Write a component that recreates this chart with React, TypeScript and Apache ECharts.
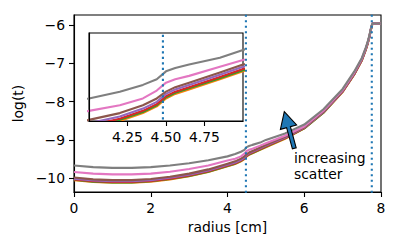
import React, { useEffect, useRef } from "react";
import * as echarts from "echarts";

const radius = [0, 0.5, 1, 1.5, 2, 2.5, 3, 3.5, 4, 4.2, 4.35, 4.44, 4.5, 4.56, 4.65, 4.85, 5, 5.5, 6, 6.5, 7, 7.3, 7.5, 7.6, 7.65, 7.7, 7.73, 7.76, 7.78, 8];

const orangeT = [-10.05, -10.1, -10.12, -10.12, -10.09, -10.03, -9.95, -9.84, -9.69, -9.63, -9.56, -9.5, -9.43, -9.39, -9.35, -9.26, -9.19, -8.97, -8.7, -8.29, -7.75, -7.3, -6.93, -6.66, -6.5, -6.31, -6.15, -6.03, -5.96, -5.96];
const greenT = [-10.04, -10.09, -10.11, -10.11, -10.08, -10.02, -9.94, -9.83, -9.68, -9.62, -9.55, -9.49, -9.42, -9.38, -9.34, -9.25, -9.18, -8.96, -8.7, -8.29, -7.74, -7.29, -6.92, -6.65, -6.49, -6.3, -6.15, -6.03, -5.96, -5.96];
const redT = [-10.03, -10.08, -10.1, -10.1, -10.07, -10.01, -9.93, -9.82, -9.67, -9.61, -9.54, -9.48, -9.41, -9.37, -9.33, -9.24, -9.17, -8.95, -8.69, -8.28, -7.74, -7.29, -6.92, -6.65, -6.49, -6.3, -6.15, -6.02, -5.96, -5.96];
const purpleT = [-10.01, -10.06, -10.08, -10.08, -10.05, -9.99, -9.91, -9.8, -9.65, -9.59, -9.52, -9.46, -9.39, -9.35, -9.31, -9.22, -9.15, -8.94, -8.68, -8.27, -7.73, -7.28, -6.91, -6.64, -6.48, -6.29, -6.14, -6.02, -5.96, -5.96];
const brownT = [-9.98, -10.03, -10.05, -10.05, -10.02, -9.96, -9.88, -9.77, -9.62, -9.56, -9.49, -9.43, -9.37, -9.33, -9.29, -9.2, -9.13, -8.92, -8.67, -8.26, -7.72, -7.27, -6.9, -6.63, -6.48, -6.29, -6.14, -6.02, -5.96, -5.96];
const pinkT = [-9.84, -9.88, -9.9, -9.9, -9.88, -9.83, -9.76, -9.67, -9.54, -9.49, -9.43, -9.36, -9.29, -9.26, -9.23, -9.15, -9.09, -8.89, -8.65, -8.24, -7.7, -7.25, -6.88, -6.62, -6.47, -6.28, -6.13, -6.01, -5.96, -5.96];
const grayT = [-9.67, -9.71, -9.73, -9.73, -9.71, -9.67, -9.61, -9.53, -9.43, -9.37, -9.31, -9.26, -9.19, -9.16, -9.13, -9.07, -9.0, -8.83, -8.6, -8.2, -7.67, -7.22, -6.86, -6.6, -6.45, -6.26, -6.12, -6.0, -5.96, -5.96];

const curves = [orangeT, greenT, redT, purpleT, brownT, pinkT, grayT];
const curveColors = ["#ff7f0e", "#2ca02c", "#d62728", "#9467bd", "#8c564b", "#e377c2", "#7f7f7f"];

const markerRadii = [4.48, 7.76];
const mainYTicks = [-10, -9, -8, -7, -6];
const insetXTicks = [4.25, 4.5, 4.75];
const mainXTicks = [0, 2, 4, 6, 8];

const FONT = "DejaVu Sans";
const FS = 13.9;

export default function App() {
  const ref = useRef<HTMLDivElement>(null);
  useEffect(() => {
    document.body.style.margin = "0";
    const chart = echarts.init(ref.current!, null, { renderer: "svg" });
    const lineSeries: any[] = [];
    [0, 1].forEach((g) => {
      curves.forEach((c, i) => {
        lineSeries.push({
          type: "line",
          xAxisIndex: g,
          yAxisIndex: g,
          data: radius.map((r, k) => [r, c[k]]),
          showSymbol: false,
          symbol: "none",
          smooth: false,
          clip: true,
          lineStyle: { color: curveColors[i], width: 2.1, join: "round" },
          z: g === 0 ? 2 : 12,
          silent: true,
        });
      });
      markerRadii.forEach((m) => {
        lineSeries.push({
          type: "line",
          xAxisIndex: g,
          yAxisIndex: g,
          data: [[m, -20], [m, 0]],
          showSymbol: false,
          symbol: "none",
          clip: true,
          lineStyle: { color: "#1f77b4", width: 2.1, type: [2.1, 3.4], cap: "butt" },
          z: g === 0 ? 4 : 14,
          silent: true,
        });
      });
    });
    const axisText = { color: "#000", fontFamily: FONT, fontSize: FS };
    chart.setOption({
      animation: false,
      backgroundColor: "#fff",
      grid: [
        { left: 74, top: 15, width: 307, height: 177, show: true, borderColor: "#000", borderWidth: 1.1, backgroundColor: "#fff", containLabel: false },
        { left: 89, top: 33, width: 154, height: 88, show: true, borderColor: "#000", borderWidth: 1.1, backgroundColor: "#fff", containLabel: false, z: 8 },
      ],
      xAxis: [
        {
          type: "value", gridIndex: 0, min: 0, max: 8, interval: 2,
          name: "radius [cm]", nameLocation: "middle", nameGap: 27, nameTextStyle: axisText,
          axisLine: { show: true, onZero: false, lineStyle: { color: "#000", width: 1.1 } },
          axisTick: { show: true, length: 5, lineStyle: { color: "#000", width: 1.1 }, customValues: mainXTicks },
          axisLabel: { ...axisText, margin: 9, customValues: mainXTicks, formatter: (v: number) => String(v) },
          splitLine: { show: false },
        },
        {
          type: "value", gridIndex: 1, min: 4.0, max: 5.0,
          axisLine: { show: true, onZero: false, lineStyle: { color: "#000", width: 1.1 } },
          axisTick: { show: true, length: 5, lineStyle: { color: "#000", width: 1.1 }, customValues: insetXTicks },
          axisLabel: { ...axisText, margin: 9, customValues: insetXTicks, formatter: (v: number) => v.toFixed(2) },
          splitLine: { show: false },
          z: 16,
        },
      ],
      yAxis: [
        {
          type: "value", gridIndex: 0, min: -10.36, max: -5.74,
          name: "log(t)", nameLocation: "middle", nameGap: 42, nameRotate: 90, nameTextStyle: axisText,
          axisLine: { show: true, onZero: false, lineStyle: { color: "#000", width: 1.1 } },
          axisTick: { show: true, length: 5, lineStyle: { color: "#000", width: 1.1 }, customValues: mainYTicks },
          axisLabel: { ...axisText, margin: 9, customValues: mainYTicks, formatter: (v: number) => String(v).replace("-", "\u2212") },
          splitLine: { show: false },
        },
        {
          type: "value", gridIndex: 1, min: -9.63, max: -8.85,
          axisLine: { show: true, onZero: false, lineStyle: { color: "#000", width: 1.1 } },
          axisTick: { show: false },
          axisLabel: { show: false },
          splitLine: { show: false },
          z: 16,
        },
      ],
      series: lineSeries,
      graphic: [
        {
          type: "polygon",
          z: 100,
          shape: {
            points: [
              [296.2, 147.8], [290.4, 126.7], [296.6, 125.0], [284.3, 111.7],
              [280.4, 129.4], [286.6, 127.7], [292.4, 148.8],
            ],
          },
          style: { fill: "#1f77b4", stroke: "#000", lineWidth: 1.1 },
        },
        {
          type: "text", left: 294, top: 151, z: 100,
          style: { text: "increasing", fill: "#000", font: `${FS}px '${FONT}'` },
        },
        {
          type: "text", left: 294, top: 167, z: 100,
          style: { text: "scatter", fill: "#000", font: `${FS}px '${FONT}'` },
        },
      ],
    });
    return () => chart.dispose();
  }, []);
  return <div ref={ref} style={{ width: 400, height: 250 }} />;
}
